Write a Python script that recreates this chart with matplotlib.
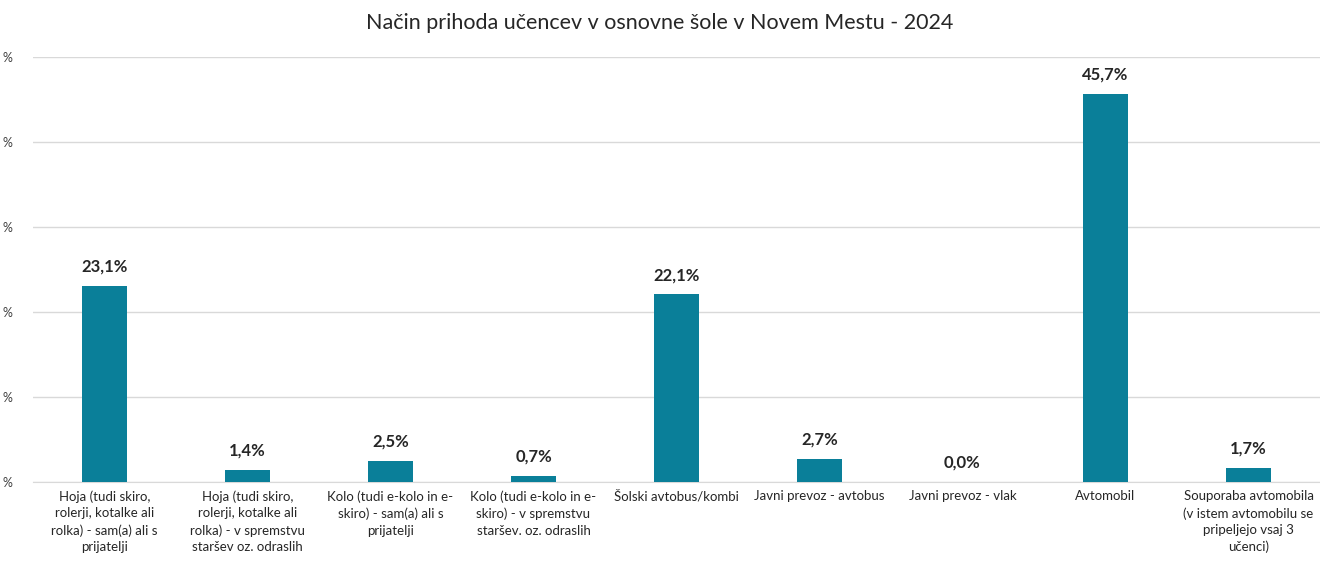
import matplotlib
matplotlib.use("Agg")
import matplotlib.pyplot as plt

categories = [
    "Hoja (tudi skiro,\nrolerji, kotalke ali\nrolka) - sam(a) ali s\nprijatelji",
    "Hoja (tudi skiro,\nrolerji, kotalke ali\nrolka) - v spremstvu\nstaršev oz. odraslih",
    "Kolo (tudi e-kolo in e-\nskiro) - sam(a) ali s\nprijatelji",
    "Kolo (tudi e-kolo in e-\nskiro) - v spremstvu\nstaršev. oz. odraslih",
    "Šolski avtobus/kombi",
    "Javni prevoz - avtobus",
    "Javni prevoz - vlak",
    "Avtomobil",
    "Souporaba avtomobila\n(v istem avtomobilu se\npripeljejo vsaj 3\nučenci)",
]
values = [23.1, 1.4, 2.5, 0.7, 22.1, 2.7, 0.0, 45.7, 1.7]
value_labels = ["23,1%", "1,4%", "2,5%", "0,7%", "22,1%", "2,7%", "0,0%", "45,7%", "1,7%"]
y_ticks = [0, 10, 20, 30, 40, 50]
y_tick_labels = ["%"] * len(y_ticks)
title = "Način prihoda učencev v osnovne šole v Novem Mestu - 2024"

plt.rcParams['font.family'] = ['Lato', 'DejaVu Sans']

fig = plt.figure(figsize=(13.2, 5.67), dpi=100)
ax = fig.add_axes([0.025, 0.150, 0.975, 0.7495])

x = list(range(len(categories)))
ax.bar(x, values, width=0.315, color="#0a7f99", zorder=3)
for xi, v, lab in zip(x, values, value_labels):
    ax.text(xi, v + 1.3, lab, ha="center", va="bottom", fontsize=12,
            fontweight="bold", color="#262626")

ax.set_xlim(-0.5, len(categories) - 0.5)
ax.set_ylim(0, 50)
ax.set_yticks(y_ticks)
ax.set_yticklabels(y_tick_labels, fontsize=9, color="#404040")
ax.set_xticks(x)
ax.set_xticklabels(categories, fontsize=9.5, color="#262626", linespacing=1.45)
ax.tick_params(axis="both", length=0)
ax.tick_params(axis="y", pad=15)
ax.tick_params(axis="x", pad=6)
ax.grid(axis="y", color="#d9d9d9", linewidth=1, zorder=0)
for s in ["top", "right", "left"]:
    ax.spines[s].set_visible(False)
ax.spines["bottom"].set_color("#d9d9d9")

fig.text(0.5, 0.96, title, ha="center", va="center", fontsize=15.5, color="#262626")

fig.savefig("out.png", dpi=100)
